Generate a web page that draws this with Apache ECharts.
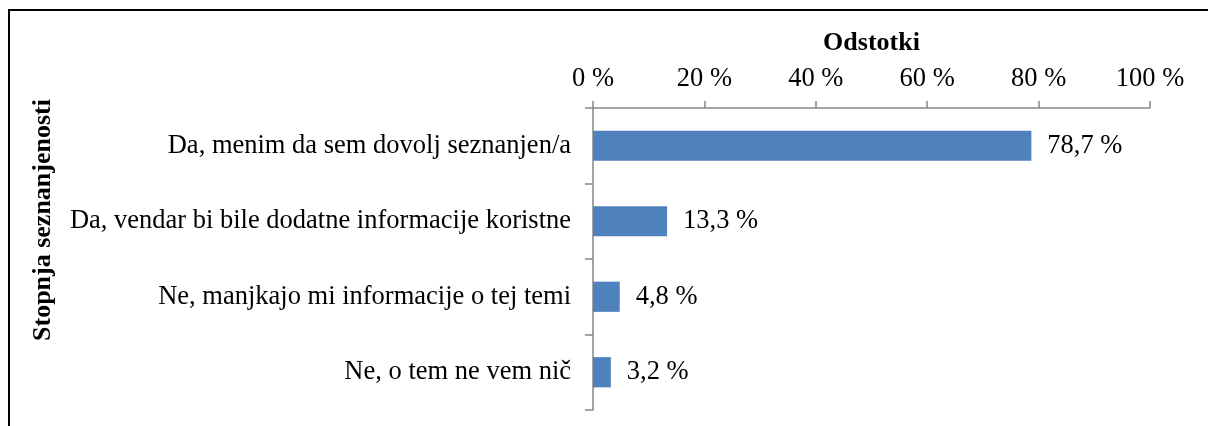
<!DOCTYPE html>
<html><head><meta charset="utf-8">
<script src="https://cdn.jsdelivr.net/npm/echarts@6/dist/echarts.min.js"></script>
<style>html,body{margin:0;padding:0;background:#fff}#c{width:1208px;height:426px}</style>
</head><body><div id="c"></div>
<script>
const categories = [
  "Da, menim da sem dovolj seznanjen/a",
  "Da, vendar bi bile dodatne informacije koristne",
  "Ne, manjkajo mi informacije o tej temi",
  "Ne, o tem ne vem nič"
];
const values = [78.7, 13.3, 4.8, 3.2];
const xTicks = [0, 20, 40, 60, 80, 100];
const xTitle = "Odstotki";
const yTitle = "Stopnja seznanjenosti";

const FONT = '"Liberation Serif","Times New Roman",serif';
const FS = 26.5;
const chart = echarts.init(document.getElementById('c'), null, {renderer: 'canvas'});
chart.setOption({
  animation: false,
  backgroundColor: '#fff',
  grid: {left: 593, right: 58, top: 108, bottom: 16, containLabel: false},
  xAxis: {
    type: 'value', position: 'top', min: xTicks[0], max: xTicks[xTicks.length-1], interval: 20,
    name: xTitle, nameLocation: 'middle', nameGap: 52,
    nameTextStyle: {fontFamily: FONT, fontSize: 26, fontWeight: 'bold', color: '#000'},
    axisLine: {show: true, lineStyle: {color: '#868686', width: 1.5}},
    axisTick: {show: true, inside: false, length: 7, lineStyle: {color: '#868686', width: 1.5}},
    axisLabel: {fontFamily: FONT, fontSize: FS, color: '#000', margin: 15,
      formatter: v => v + ' %'},
    splitLine: {show: false}
  },
  yAxis: {
    type: 'category', inverse: true, data: categories,
    axisLine: {show: true, lineStyle: {color: '#868686', width: 1.5}},
    axisTick: {show: true, inside: false, length: 8, lineStyle: {color: '#868686', width: 1.5}},
    axisLabel: {fontFamily: FONT, fontSize: FS, color: '#000', margin: 22},
    splitLine: {show: false}
  },
  series: [{
    type: 'bar', data: values, barCategoryGap: '60%',
    itemStyle: {color: '#4F81BD'},
    label: {show: true, position: 'right', distance: 16, fontFamily: FONT, fontSize: FS, color: '#000',
      formatter: p => String(p.value).replace('.', ',') + ' %'}
  }],
  graphic: [
    {type: 'polyline', shape: {points: [[9, 426], [9, 10], [1208, 10]]}, style: {stroke: '#000', lineWidth: 2, fill: null}},
    {type: 'text', x: 43, y: 220, rotation: Math.PI/2,
      style: {text: yTitle, fontFamily: FONT, fontSize: 26, fontWeight: 'bold', fill: '#000', align: 'center', verticalAlign: 'middle'}}
  ]
});
</script></body></html>
